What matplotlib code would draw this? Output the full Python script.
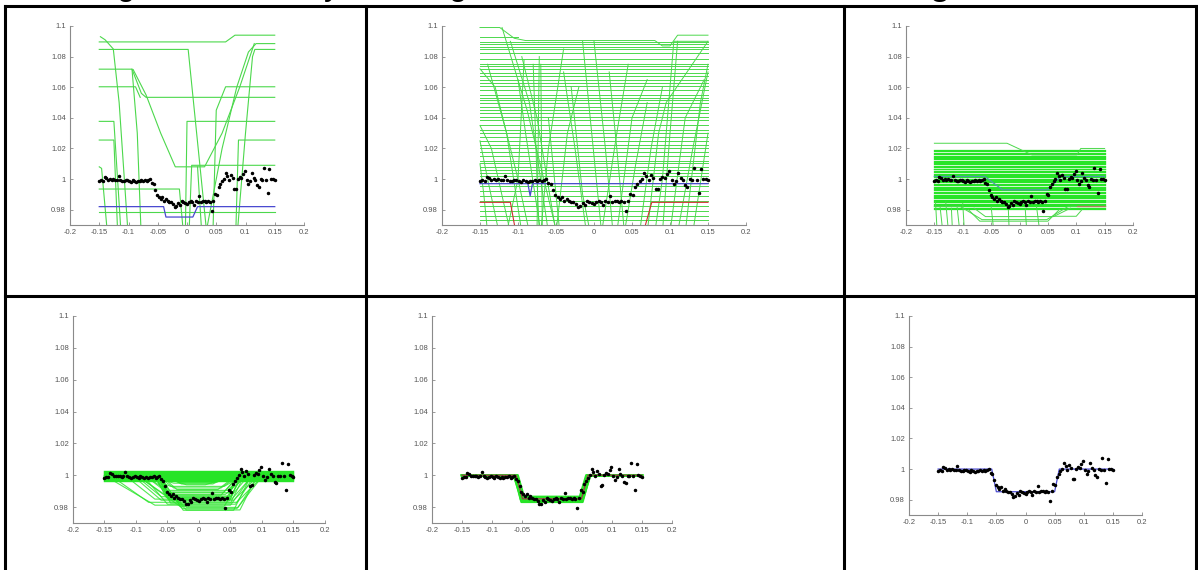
import numpy as np
import matplotlib
matplotlib.use('Agg')
import matplotlib.pyplot as plt
from matplotlib.lines import Line2D

plt.rcParams['font.family'] = ['Liberation Sans Narrow', 'Liberation Sans', 'DejaVu Sans']

# observed light curve (same in every panel)
times = [-0.150, -0.147, -0.144, -0.141, -0.138, -0.135, -0.132, -0.129, -0.126, -0.123,
         -0.120, -0.117, -0.114, -0.111, -0.108, -0.105, -0.102, -0.099, -0.096, -0.093,
         -0.090, -0.087, -0.084, -0.081, -0.078, -0.075, -0.072, -0.069, -0.066, -0.063,
         -0.060, -0.057, -0.054, -0.051, -0.048, -0.045, -0.042, -0.039, -0.036, -0.033,
         -0.030, -0.027, -0.024, -0.021, -0.018, -0.015, -0.012, -0.009, -0.006, -0.003,
         0.000, 0.003, 0.006, 0.009, 0.012, 0.015, 0.018, 0.021, 0.024, 0.027,
         0.030, 0.033, 0.036, 0.039, 0.042, 0.045, 0.048, 0.051, 0.054, 0.057,
         0.060, 0.063, 0.066, 0.069, 0.072, 0.075, 0.078, 0.081, 0.084, 0.087,
         0.090, 0.093, 0.096, 0.099, 0.102, 0.105, 0.108, 0.111, 0.114, 0.117,
         0.120, 0.123, 0.126, 0.129, 0.132, 0.135, 0.138, 0.141, 0.144, 0.147, 0.150]
flux = [0.9985, 0.9992, 0.9990, 1.0012, 1.0010, 0.9995, 0.9998, 0.9996, 0.9998, 0.9992,
        0.9996, 1.0022, 0.9995, 0.9990, 0.9985, 0.9992, 0.9996, 0.9988, 0.9983, 0.9995,
        0.9988, 0.9982, 0.9990, 0.9985, 0.9992, 0.9988, 0.9995, 0.9985, 0.9992, 0.9998,
        0.9975, 0.9965, 0.9930, 0.9895, 0.9885, 0.9872, 0.9880, 0.9860, 0.9870, 0.9855,
        0.9852, 0.9848, 0.9838, 0.9820, 0.9822, 0.9845, 0.9832, 0.9858, 0.9850, 0.9845,
        0.9840, 0.9848, 0.9855, 0.9852, 0.9830, 0.9855, 0.9850, 0.9890, 0.9852, 0.9855,
        0.9858, 0.9852, 0.9858, 0.9850, 0.9792, 0.9858, 0.9905, 0.9895, 0.9945, 0.9965,
        0.9985, 1.0000, 1.0040, 1.0020, 0.9995, 1.0025, 1.0010, 0.9935, 0.9938, 1.0000,
        1.0015, 1.0010, 1.0030, 1.0050, 0.9995, 0.9970, 0.9990, 1.0042, 1.0005, 0.9995,
        0.9960, 0.9950, 0.9998, 0.9995, 1.0075, 0.9995, 0.9910, 1.0068, 1.0000, 0.9998, 0.9992]

x_ticks = [-0.2, -0.15, -0.1, -0.05, 0, 0.05, 0.1, 0.15, 0.2]
x_tick_labels = ['-0.2', '-0.15', '-0.1', '-0.05', '0', '0.05', '0.1', '0.15', '0.2']
y_ticks = [0.98, 1.0, 1.02, 1.04, 1.06, 1.08, 1.1]
y_tick_labels = ['0.98', '1', '1.02', '1.04', '1.06', '1.08', '1.1']

# panel 1 : first generation
p1_levels = [0.9788]
p1_curves = [
    [(-0.15, 1.0896), (0.066, 1.0896), (0.082, 1.094), (0.15, 1.094)],
    [(-0.148, 1.093), (-0.140, 1.091), (-0.126, 1.085), (-0.116, 1.05), (-0.100, 0.96)],
    [(-0.15, 1.0847), (0.002, 1.0847), (0.035, 0.96)],
    [(0.030, 0.96), (0.060, 1.02), (0.085, 1.06), (0.105, 1.083), (0.118, 1.0885), (0.15, 1.0885)],
    [(0.085, 0.96), (0.100, 1.03), (0.112, 1.08), (0.116, 1.0847), (0.15, 1.0847)],
    [(-0.15, 1.0718), (-0.094, 1.0718), (-0.078, 1.056), (-0.070, 1.0534), (0.15, 1.0534)],
    [(-0.092, 1.0715), (-0.070, 1.055), (-0.045, 1.030), (-0.020, 1.008), (0.030, 1.008),
     (0.060, 1.030), (0.090, 1.060), (0.115, 1.0885)],
    [(-0.15, 1.0603), (-0.088, 1.0603), (-0.080, 1.0534)],
    [(0.044, 0.96), (0.050, 1.045), (0.066, 1.0603), (0.15, 1.0603)],
    [(-0.003, 0.96), (0.000, 1.0377), (0.15, 1.0377)],
    [(-0.15, 1.0377), (-0.125, 1.0377), (-0.112, 0.96)],
    [(-0.15, 1.0255), (-0.125, 1.0255), (-0.118, 0.96)],
    [(0.083, 0.96), (0.088, 1.0255), (0.15, 1.0255)],
    [(0.003, 0.96), (0.008, 1.009), (0.15, 1.009)],
    [(-0.15, 1.008), (-0.146, 1.007), (-0.135, 0.96)],
    [(-0.15, 0.9935), (-0.013, 0.9935), (-0.005, 0.96)],
    [(-0.094, 1.0718), (-0.085, 1.03), (-0.078, 0.96)],
    [(0.018, 1.008), (0.026, 0.96)],
]
p1_best = [(-0.15, 0.982), (-0.040, 0.982), (-0.036, 0.9752), (0.010, 0.9752),
           (0.018, 0.982), (0.15, 0.982)]

# panel 2 : early generation, wide spread
p2_levels = [1.0896, 1.0885, 1.0863, 1.0848, 1.0826, 1.0787, 1.0755, 1.0738, 1.0722,
             1.0690, 1.0672, 1.0646, 1.0629, 1.0607, 1.0581, 1.0549, 1.0527, 1.0516,
             1.0495, 1.0473, 1.0451, 1.0430, 1.0408, 1.0386, 1.0354, 1.0321, 1.0299,
             1.0278, 1.0252, 1.0223, 1.0202, 1.0180, 1.0148, 1.0121, 1.0104, 1.0082,
             1.0061, 1.0039, 1.0017, 0.9974, 0.9952, 0.9920, 0.9887, 0.9855, 0.9822,
             0.9790, 0.9757, 0.9735]
p2_curves = [
    [(-0.15, 1.099), (-0.124, 1.099), (-0.105, 1.092), (-0.09, 1.0905), (0.08, 1.0905),
     (0.09, 1.087), (0.10, 1.087), (0.11, 1.094), (0.15, 1.094)],
    [(-0.15, 1.0928), (-0.10, 1.0928)],
    [(-0.15, 1.072), (-0.13, 1.06), (-0.10, 1.0), (-0.085, 0.965)],
    [(-0.14, 1.075), (-0.115, 1.03), (-0.095, 0.965)],
    [(-0.15, 1.035), (-0.135, 1.02), (-0.11, 0.965)],
    [(-0.15, 1.025), (-0.14, 1.0), (-0.125, 0.965)],
    [(-0.15, 1.01), (-0.145, 0.99), (-0.14, 0.965)],
    [(-0.121, 1.099), (-0.088, 1.045), (-0.049, 0.965)],
    [(-0.11, 1.09), (-0.085, 1.05), (-0.06, 0.965)],
    [(-0.10, 1.065), (-0.09, 1.03), (-0.07, 0.965)],
    [(-0.095, 1.08), (-0.075, 1.04), (-0.05, 0.965)],
    [(-0.08, 1.075), (-0.075, 1.0), (-0.072, 0.965)],
    [(-0.07, 1.075), (-0.068, 0.965)],
    [(-0.06, 1.04), (-0.045, 0.965)],
    [(-0.04, 1.07), (-0.025, 1.02), (-0.01, 0.965)],
    [(-0.03, 1.06), (-0.015, 0.99), (-0.005, 0.965)],
    [(-0.015, 1.09), (-0.005, 1.04), (0.01, 0.965)],
    [(0.0, 1.09), (0.015, 1.02), (0.025, 0.965)],
    [(0.02, 1.07), (0.03, 1.02), (0.04, 0.965)],
    [(-0.115, 0.965), (-0.1, 1.0), (-0.092, 1.078)],
    [(-0.07, 0.965), (-0.06, 1.02), (-0.04, 1.085)],
    [(-0.05, 0.965), (-0.035, 1.03), (-0.02, 1.06)],
    [(0.01, 0.965), (0.03, 1.03), (0.045, 1.075)],
    [(0.03, 0.965), (0.05, 1.04), (0.07, 1.065)],
    [(0.04, 0.965), (0.055, 1.01), (0.07, 1.05)],
    [(0.06, 0.965), (0.075, 1.02), (0.09, 1.06)],
    [(0.08, 0.965), (0.09, 1.0), (0.105, 1.09), (0.15, 1.09)],
    [(0.09, 0.965), (0.1, 1.03), (0.11, 1.09)],
    [(0.1, 0.965), (0.12, 1.04), (0.145, 1.065)],
    [(0.11, 0.965), (0.13, 1.02), (0.15, 1.07)],
    [(0.12, 0.965), (0.14, 1.05), (0.15, 1.075)],
    [(0.13, 0.965), (0.15, 1.03)],
    [(0.07, 0.965), (0.085, 1.03), (0.095, 1.05), (0.15, 1.09)],
    [(-0.075, 0.965), (-0.072, 1.08)],
]
p2_red = [(-0.15, 0.9848), (-0.110, 0.9848), (-0.101, 0.96), (0.062, 0.96), (0.076, 0.9848),
          (0.15, 0.9848)]
p2_best = [(-0.15, 0.997), (-0.087, 0.997), (-0.084, 0.989), (-0.081, 0.997), (0.15, 0.997)]

# panel 3 : population collapsing onto the data level
p3_levels = [1.0188, 1.0181, 1.0171, 1.0164, 1.0153, 1.0147, 1.0139, 1.0128, 1.0121, 1.0110,
             1.0103, 1.0096, 1.0086, 1.0080, 1.0069, 1.0063, 1.0052, 1.0046, 1.0035, 1.0029,
             1.0018, 1.0012, 1.0002, 0.9994, 0.9985, 0.9978, 0.9967, 0.9960, 0.9950, 0.9943,
             0.9933, 0.9926, 0.9915, 0.9909, 0.9898, 0.9891, 0.9881, 0.9874, 0.9865, 0.9857,
             0.9848, 0.9840, 0.9831, 0.9823, 0.9814, 0.9806]
p3_curves = [
    [(-0.15, 1.0234), (-0.022, 1.0234), (0.022, 1.0158), (0.101, 1.0158), (0.108, 1.0200),
     (0.15, 1.0200)],
    [(-0.15, 0.9822), (-0.105, 0.9822), (-0.066, 0.9735), (0.048, 0.9735), (0.086, 0.9822),
     (0.15, 0.9822)],
    [(-0.148, 0.985), (-0.145, 0.965)],
    [(-0.14, 0.982), (-0.135, 0.965)],
    [(-0.13, 0.985), (-0.125, 0.965)],
    [(-0.12, 0.981), (-0.118, 0.965)],
    [(-0.11, 0.982), (-0.105, 0.965)],
    [(-0.10, 0.984), (-0.097, 0.965)],
    [(-0.09, 0.980), (-0.07, 0.9725), (0.05, 0.9725), (0.07, 0.980)],
    [(-0.08, 0.981), (-0.06, 0.9755), (0.06, 0.9755), (0.09, 0.981)],
    [(-0.05, 0.982), (-0.045, 0.965)],
    [(-0.02, 0.983), (-0.018, 0.965)],
    [(0.01, 0.981), (0.013, 0.965)],
    [(0.03, 0.982), (0.036, 0.965)],
    [(0.06, 0.9757), (0.10, 0.9757), (0.11, 0.980)],
]
p3_teal = [(-0.15, 1.0017), (-0.061, 1.0017), (-0.030, 0.9930), (0.050, 0.9930), (0.072, 1.0017),
           (0.15, 1.0017)]
p3_brown = [(0.101, 0.9822), (0.15, 0.9822)]

# panel 4 : (base, bottom, ingress start, ingress end, egress start, egress end)
p4_levels = [1.0027, 1.0021, 1.0016, 1.0010, 1.0004, 0.9999, 0.9993, 0.9987, 0.9981,
             0.9975, 0.9969, 0.9964]
p4_transits = [
    (0.9990, 0.9960, -0.065, -0.030, 0.030, 0.060),
    (0.9985, 0.9950, -0.070, -0.040, 0.020, 0.055),
    (0.9990, 0.9940, -0.060, -0.020, 0.010, 0.050),
    (0.9980, 0.9930, -0.075, -0.045, 0.040, 0.062),
    (0.9985, 0.9920, -0.062, -0.040, 0.035, 0.058),
    (0.9990, 0.9910, -0.058, -0.035, 0.030, 0.056),
    (0.9980, 0.9905, -0.080, -0.050, 0.045, 0.065),
    (0.9985, 0.9895, -0.065, -0.050, 0.040, 0.060),
    (0.9990, 0.9890, -0.062, -0.048, 0.046, 0.062),
    (0.9975, 0.9880, -0.090, -0.055, 0.042, 0.070),
    (0.9985, 0.9875, -0.070, -0.050, 0.035, 0.060),
    (0.9990, 0.9870, -0.060, -0.050, 0.048, 0.058),
    (0.9980, 0.9865, -0.095, -0.060, 0.050, 0.075),
    (0.9985, 0.9860, -0.068, -0.052, 0.044, 0.062),
    (0.9990, 0.9855, -0.062, -0.050, 0.046, 0.060),
    (0.9975, 0.9850, -0.110, -0.070, 0.052, 0.080),
    (0.9985, 0.9848, -0.064, -0.048, 0.050, 0.064),
    (0.9980, 0.9843, -0.100, -0.060, 0.055, 0.090),
    (0.9990, 0.9838, -0.066, -0.046, 0.048, 0.066),
    (0.9970, 0.9830, -0.130, -0.080, 0.060, 0.095),
    (0.9985, 0.9825, -0.070, -0.045, 0.050, 0.070),
    (0.9980, 0.9818, -0.085, -0.050, 0.058, 0.085),
    (0.9975, 0.9812, -0.140, -0.070, 0.050, 0.080),
    (0.9985, 0.9805, -0.060, -0.030, 0.040, 0.068),
    (0.9980, 0.9798, -0.080, -0.020, 0.062, 0.092),
    (0.9975, 0.9790, -0.090, -0.025, 0.060, 0.097),
    (0.9980, 0.9782, -0.070, -0.020, 0.065, 0.090),
    (0.9975, 0.9780, -0.060, -0.025, 0.055, 0.080),
    (0.9995, 0.9975, -0.050, -0.020, 0.010, 0.040),
    (0.9995, 0.9965, -0.055, -0.025, 0.015, 0.045),
    (0.9993, 0.9955, -0.060, -0.030, 0.020, 0.050),
    (0.9997, 0.9945, -0.052, -0.028, 0.022, 0.048),
]

# panel 5 : converged population around the best model
p5_transits = [
    (1.0000, 0.9838, -0.062, -0.050, 0.048, 0.060),
    (1.0000, 0.9845, -0.059, -0.047, 0.050, 0.062),
    (1.0000, 0.9858, -0.061, -0.048, 0.047, 0.059),
    (1.0000, 0.9865, -0.058, -0.050, 0.049, 0.058),
    (1.0000, 0.9832, -0.063, -0.051, 0.051, 0.063),
    (1.0000, 0.9850, -0.060, -0.046, 0.046, 0.061),
    (1.0000, 0.9842, -0.057, -0.045, 0.049, 0.061),
    (1.0000, 0.9855, -0.062, -0.049, 0.052, 0.064),
    (1.0000, 0.9848, -0.061, -0.052, 0.045, 0.057),
    (1.0000, 0.9836, -0.059, -0.048, 0.050, 0.063),
    (1.0000, 0.9860, -0.060, -0.049, 0.048, 0.060),
    (1.0000, 0.9840, -0.064, -0.050, 0.047, 0.062),
]
p5_best = (1.0000, 0.9852, -0.060, -0.049, 0.049, 0.060)

# panel 6 : final fit
p6_best = (1.0000, 0.9852, -0.058, -0.050, 0.050, 0.058)

W, H = 1198, 570
GREEN = '#4cd84c'
GREEN_DENSE = '#27e427'


def px_box(x0, y0, x1, y1):
    return [x0 / W, 1 - y1 / H, (x1 - x0) / W, (y1 - y0) / H]


def transit_vertices(p):
    base, bottom, t1, t2, t3, t4 = p
    return [(-0.15, base), (t1, base), (t2, bottom), (t3, bottom), (t4, base), (0.15, base)]


def draw_poly(ax, verts, **kw):
    xs = [v[0] for v in verts]
    ys = [v[1] for v in verts]
    ax.plot(xs, ys, **kw)


def style_axes(ax):
    ax.set_xlim(-0.2, 0.2)
    ax.set_ylim(0.97, 1.1)
    for s in ['top', 'right']:
        ax.spines[s].set_visible(False)
    for s in ['left', 'bottom']:
        ax.spines[s].set_color('#8a8a8a')
        ax.spines[s].set_linewidth(0.8)
    ax.set_xticks(x_ticks)
    ax.set_xticklabels(x_tick_labels)
    ax.set_yticks(y_ticks)
    ax.set_yticklabels(y_tick_labels)
    ax.tick_params(direction='in', length=2.5, width=0.6, colors='#8a8a8a',
                   labelcolor='#555555', labelsize=5.5, pad=3)
    ax.patch.set_alpha(0)


def draw_data(ax):
    ax.plot(times, flux, 'o', color='black', markersize=1.5, zorder=5)


fig = plt.figure(figsize=(W / 100, H / 100), dpi=100)

boxes = [
    (70, 26, 304, 225),
    (442, 26, 746, 225),
    (906, 26, 1133, 225),
    (73, 316, 325, 523),
    (432, 316, 672, 523),
    (909, 316, 1142, 515),
]
axes = [fig.add_axes(px_box(*b)) for b in boxes]

# panel 1
ax = axes[0]
for lv in p1_levels:
    ax.plot([-0.15, 0.15], [lv, lv], color=GREEN, lw=0.8)
for c in p1_curves:
    draw_poly(ax, c, color=GREEN, lw=0.8)
draw_poly(ax, p1_best, color='#4a4ad0', lw=0.9)
draw_data(ax)

# panel 2
ax = axes[1]
for lv in p2_levels:
    ax.plot([-0.15, 0.15], [lv, lv], color=GREEN, lw=0.7)
for c in p2_curves:
    draw_poly(ax, c, color=GREEN, lw=0.7)
draw_poly(ax, p2_red, color='#d03030', lw=0.8)
draw_poly(ax, p2_best, color='#4a4ad0', lw=0.9)
draw_data(ax)

# panel 3
ax = axes[2]
for lv in p3_levels:
    ax.plot([-0.15, 0.15], [lv, lv], color=GREEN_DENSE, lw=0.9)
for c in p3_curves:
    draw_poly(ax, c, color=GREEN, lw=0.7)
draw_poly(ax, p3_teal, color='#4d9aa8', lw=0.9)
draw_poly(ax, p3_brown, color='#b08060', lw=0.9)
draw_data(ax)

# panel 4
ax = axes[3]
for lv in p4_levels:
    ax.plot([-0.15, 0.15], [lv, lv], color=GREEN_DENSE, lw=1.0)
for p in p4_transits:
    draw_poly(ax, transit_vertices(p), color=GREEN_DENSE, lw=0.8, alpha=0.8)
draw_data(ax)

# panel 5
ax = axes[4]
for p in p5_transits:
    draw_poly(ax, transit_vertices(p), color=GREEN_DENSE, lw=1.6)
draw_poly(ax, transit_vertices(p5_best), color='#a03a4a', lw=0.9)
draw_data(ax)

# panel 6
ax = axes[5]
draw_poly(ax, transit_vertices(p6_best), color='#4a4ad0', lw=0.9)
draw_data(ax)

for ax in axes:
    style_axes(ax)

# table grid around the panels
def grid_line(x0, y0, x1, y1):
    fig.add_artist(Line2D([x0 / W, x1 / W], [1 - y0 / H, 1 - y1 / H],
                          color='black', lw=2.2, solid_capstyle='projecting'))

grid_line(5, 6, 1196, 6)
grid_line(5, 296, 1196, 296)
grid_line(5, 6, 5, 572)
grid_line(366, 6, 366, 572)
grid_line(844, 6, 844, 572)
grid_line(1196, 6, 1196, 572)

# title cut off above the image, only the descenders show
for ch, xpos, weight in [('g', 126, 'normal'), ('y', 332, 'normal'),
                          ('g', 458, 'normal'), ('g', 940, 'bold')]:
    fig.text(xpos / W, 1 + 4.5 / H, ch, ha='center', va='baseline', fontsize=24,
             fontweight=weight, family=['Liberation Sans', 'DejaVu Sans'])

fig.savefig('out.png', dpi=100)
